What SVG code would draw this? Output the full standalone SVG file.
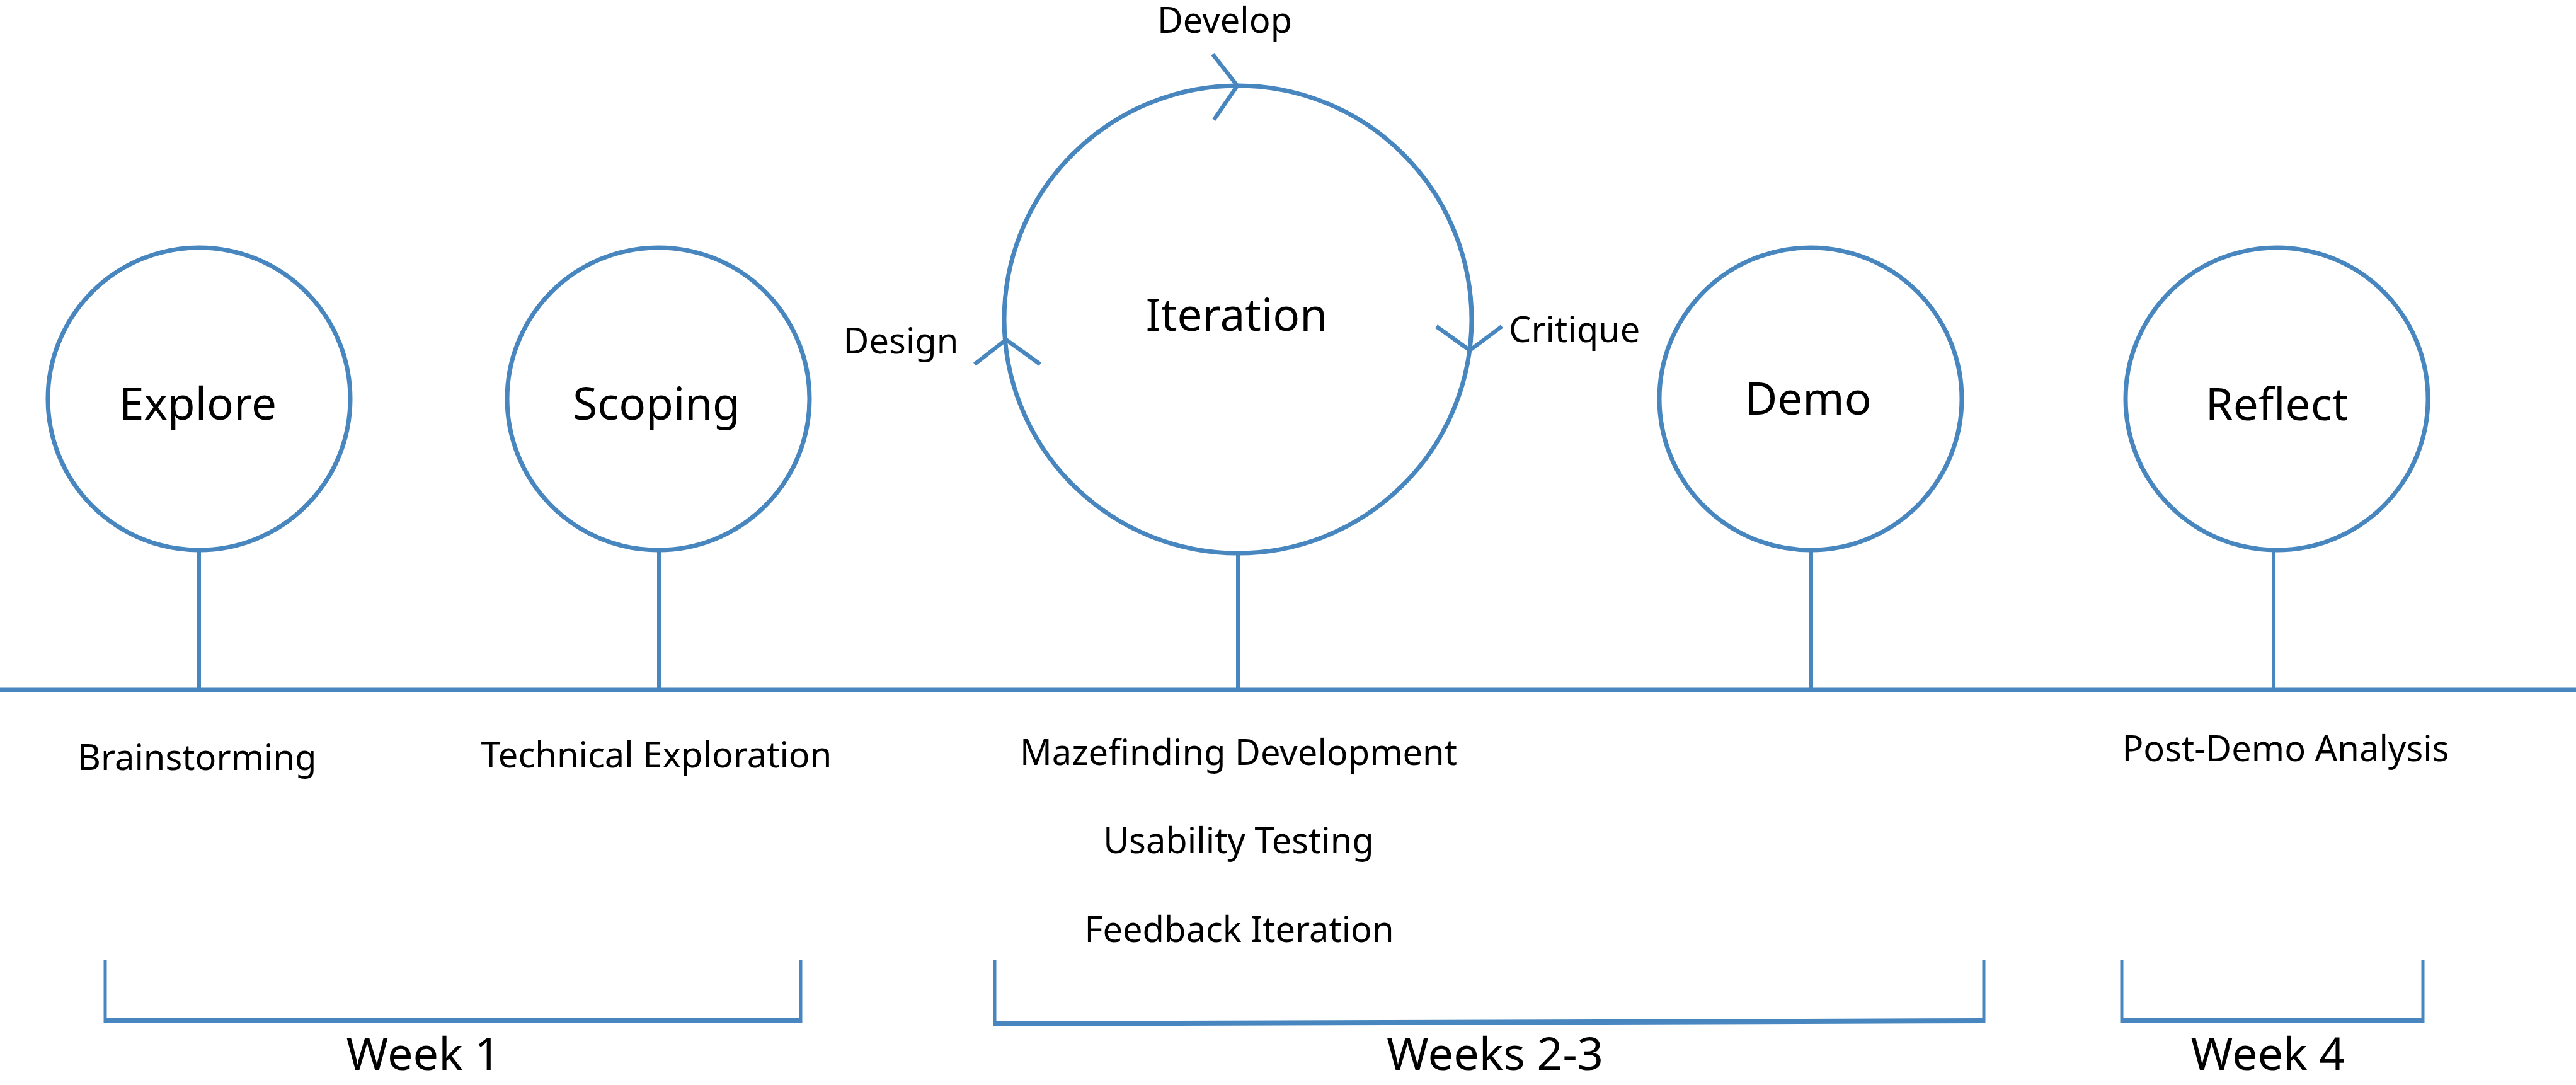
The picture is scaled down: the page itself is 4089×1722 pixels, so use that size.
<svg xmlns="http://www.w3.org/2000/svg" width="4089" height="1722" viewBox="0 0 4089 1722">
<style>
.ln{fill:none;stroke:#4786be;stroke-linecap:butt;stroke-linejoin:miter}
.node{fill:#ffffff;stroke:#4786be;stroke-width:7}
.big{font-family:"Noto Sans","Open Sans","Liberation Sans",sans-serif;font-size:71px;fill:#000;text-anchor:middle}
.sm{font-family:"Noto Sans","Open Sans","Liberation Sans",sans-serif;font-size:56px;fill:#000;text-anchor:middle}
.wk{font-family:"Noto Sans","Open Sans","Liberation Sans",sans-serif;font-size:72px;fill:#000;text-anchor:middle}
</style>
<rect width="4089" height="1722" fill="#ffffff"/>
<g id="connectors">
<line class="ln" x1="0" y1="1095" x2="4089" y2="1095" stroke-width="7"/>
<line class="ln" x1="316" y1="873" x2="316" y2="1095" stroke-width="6"/>
<line class="ln" x1="1046" y1="873" x2="1046" y2="1095" stroke-width="6"/>
<line class="ln" x1="1965" y1="878" x2="1965" y2="1095" stroke-width="6"/>
<line class="ln" x1="2875" y1="873" x2="2875" y2="1095" stroke-width="6"/>
<line class="ln" x1="3609" y1="873" x2="3609" y2="1095" stroke-width="6"/>
</g>
<g id="node-explore">
<circle class="node" cx="316" cy="633" r="240"/>
<text class="big" x="314" y="666">Explore</text>
</g>
<g id="node-scoping">
<circle class="node" cx="1045" cy="633" r="240"/>
<text class="big" x="1042" y="666">Scoping</text>
</g>
<g id="node-iteration">
<circle class="node" cx="1965" cy="507" r="371"/>
<text class="big" x="1963" y="525">Iteration</text>
<polyline class="ln" stroke-width="6.5" points="1925,86 1964,136 1927,190"/>
<polyline class="ln" stroke-width="6.5" points="1547,578 1597,539 1651,578"/>
<polyline class="ln" stroke-width="6.5" points="2280,518 2333,556 2384,518"/>
<text class="sm" x="1944" y="52">Develop</text>
<text class="sm" x="1430" y="561">Design</text>
<text class="sm" x="2395" y="543" style="text-anchor:start">Critique</text>
</g>
<g id="node-demo">
<circle class="node" cx="2874" cy="633" r="240"/>
<text class="big" x="2870" y="658">Demo</text>
</g>
<g id="node-reflect">
<circle class="node" cx="3614" cy="633" r="240"/>
<text class="big" x="3614" y="667">Reflect</text>
</g>
<g id="activities">
<text class="sm" x="313" y="1222">Brainstorming</text>
<text class="sm" x="1042" y="1218">Technical Exploration</text>
<text class="sm" x="1966" y="1214">Mazefinding Development</text>
<text class="sm" x="1966" y="1354">Usability Testing</text>
<text class="sm" x="1967" y="1495">Feedback Iteration</text>
<text class="sm" x="3628" y="1208">Post-Demo Analysis</text>
</g>
<g id="bracket-week1">
<line class="ln" x1="167" y1="1524" x2="167" y2="1624" stroke-width="5"/>
<line class="ln" x1="1271" y1="1524" x2="1271" y2="1624" stroke-width="5"/>
<line class="ln" x1="165" y1="1620" x2="1273" y2="1620" stroke-width="8"/>
<text class="wk" x="672" y="1698">Week 1</text>
</g>
<g id="bracket-weeks23">
<line class="ln" x1="1579" y1="1524" x2="1579" y2="1628" stroke-width="5"/>
<line class="ln" x1="3149" y1="1524" x2="3149" y2="1624" stroke-width="5"/>
<line class="ln" x1="1577" y1="1625" x2="3151" y2="1620" stroke-width="8"/>
<text class="wk" x="2373" y="1698">Weeks 2-3</text>
</g>
<g id="bracket-week4">
<line class="ln" x1="3368" y1="1524" x2="3368" y2="1624" stroke-width="5"/>
<line class="ln" x1="3846" y1="1524" x2="3846" y2="1624" stroke-width="5"/>
<line class="ln" x1="3366" y1="1620" x2="3848" y2="1620" stroke-width="8"/>
<text class="wk" x="3600" y="1698">Week 4</text>
</g>
</svg>
